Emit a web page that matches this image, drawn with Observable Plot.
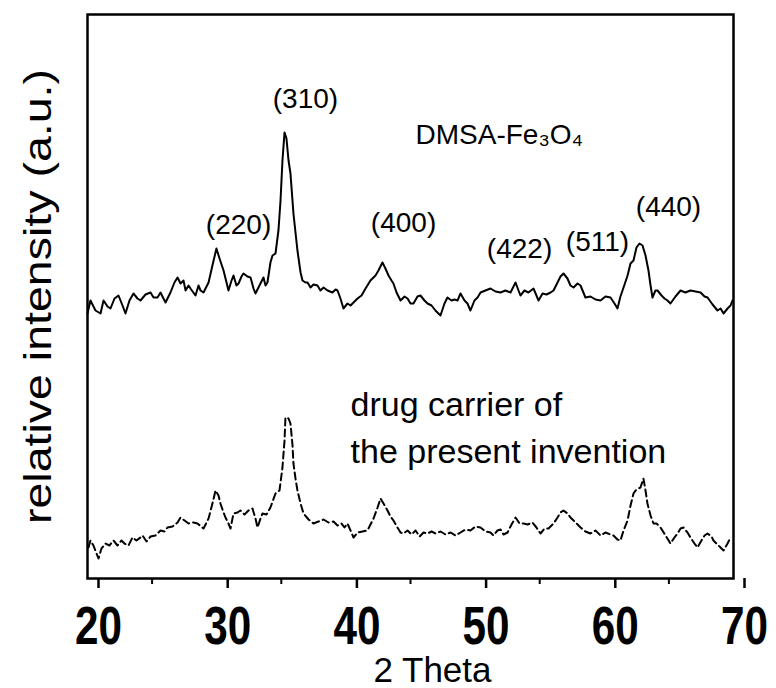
<!DOCTYPE html>
<html>
<head>
<meta charset="utf-8">
<script src="https://cdn.jsdelivr.net/npm/d3@7"></script>
<script src="https://cdn.jsdelivr.net/npm/@observablehq/plot@0.6"></script>
<style>
  html, body { margin: 0; padding: 0; background: #fff; }
  #chart { width: 776px; height: 688px; }
</style>
</head>
<body>
<div id="chart"></div>
<script>
// 2-theta positions and relative intensities (a.u.)
const dmsaTheta = [20.0,20.23,20.62,21.01,21.24,21.55,21.78,22.09,22.40,22.71,22.94,23.25,23.56,23.87,24.10,24.49,24.88,25.11,25.42,25.65,25.88,26.04,26.42,26.73,26.97,27.20,27.43,27.59,27.82,27.97,28.36,28.59,28.75,28.98,29.37,29.67,29.98,30.22,30.53,30.76,30.91,31.15,31.30,31.53,31.69,31.92,32.07,32.38,32.62,32.85,33.00,33.31,33.62,33.78,33.93,34.16,34.32,34.55,34.78,34.94,35.09,35.25,35.40,35.56,35.71,35.94,36.25,36.49,36.64,36.87,37.03,37.26,37.49,37.80,38.03,38.27,38.58,38.96,39.20,39.35,39.58,39.81,40.12,40.36,40.59,40.90,41.21,41.52,41.90,42.29,42.52,42.83,43.06,43.30,43.53,43.68,43.92,44.23,44.54,44.77,45.00,45.23,45.54,45.77,46.08,46.32,46.63,46.93,47.32,47.63,47.86,48.17,48.41,48.64,48.87,49.18,49.41,49.64,49.95,50.19,50.42,50.80,51.19,51.58,51.97,52.35,52.74,53.13,53.36,53.51,53.82,54.13,54.52,54.91,55.22,55.53,55.84,56.07,56.38,56.61,56.84,57.15,57.38,57.62,57.93,58.16,58.54,58.93,59.32,59.71,60.09,60.48,60.79,61.02,61.25,61.49,61.80,62.03,62.26,62.49,62.72,62.96,63.19,63.42,63.58,63.73,63.96,64.12,64.43,64.66,64.89,65.12,65.51,65.90,66.28,66.67,67.06,67.45,67.76,67.99,68.38,68.76,69.00,69.23,69.54,69.77,69.92];
const dmsaIntensity = [265,278,268,265,278,272,270,280,283,273,265,278,285,280,278,284,286,281,281,286,280,276,286,296,301,295,298,288,293,290,283,293,288,286,296,313,330,320,308,296,288,298,303,293,295,302,305,302,301,290,285,293,301,293,296,316,323,325,348,378,418,446,440,418,405,365,328,306,298,296,296,291,294,293,288,291,288,286,289,288,280,270,275,273,276,280,283,290,298,303,308,316,310,303,298,295,286,278,282,280,275,275,282,283,278,275,273,268,263,275,281,278,279,278,285,278,275,268,278,281,286,288,290,287,286,288,286,296,288,283,288,286,290,278,285,284,286,288,296,302,305,300,293,291,295,293,281,282,279,278,282,281,275,270,282,291,303,315,318,331,335,333,323,308,293,281,288,288,283,280,278,275,282,288,286,288,287,286,282,281,274,268,270,265,270,273,278];

const carrierTheta = [20.08,20.23,20.46,20.85,21.08,21.39,21.70,22.01,22.32,22.63,22.86,23.17,23.48,23.79,24.10,24.26,24.57,24.88,25.26,25.65,25.96,26.19,26.58,26.97,27.20,27.51,27.82,28.20,28.51,28.98,29.37,29.67,29.91,30.14,30.29,30.53,30.68,30.91,31.07,31.30,31.61,31.84,32.15,32.46,32.77,33.00,33.16,33.39,33.54,33.85,34.16,34.55,34.86,35.09,35.25,35.32,35.56,35.71,35.87,35.94,36.10,36.25,36.49,36.72,37.11,37.49,37.88,38.27,38.65,39.04,39.35,39.66,39.89,40.12,40.36,40.59,40.90,41.29,41.67,41.90,42.14,42.45,42.68,42.91,43.22,43.45,43.68,43.99,44.23,44.46,44.77,45.08,45.39,45.70,46.01,46.32,46.63,46.93,47.32,47.71,48.10,48.48,48.87,49.26,49.64,50.03,50.42,50.80,51.19,51.42,51.73,51.97,52.20,52.51,52.82,53.13,53.44,53.75,54.06,54.44,54.75,55.06,55.37,55.68,56.07,56.38,56.61,56.84,57.15,57.38,57.62,57.93,58.16,58.54,58.93,59.32,59.71,60.09,60.48,60.71,61.02,61.25,61.49,61.80,62.03,62.26,62.49,62.80,63.03,63.19,63.34,63.58,63.81,64.04,64.35,64.74,65.12,65.43,65.67,65.90,66.13,66.44,66.67,66.98,67.21,67.52,67.76,67.99,68.30,68.45,68.84,69.23,69.54,69.77];
const carrierIntensity = [31,38,33,20,30,35,33,38,33,38,35,33,41,38,41,43,37,42,43,48,47,51,52,56,61,58,55,56,55,50,60,75,88,83,75,66,61,55,50,65,66,68,64,68,70,60,51,60,65,64,71,85,88,111,138,161,160,155,133,115,100,88,75,65,59,55,57,59,56,57,53,55,51,55,48,41,46,47,48,54,60,71,80,75,68,62,58,51,46,45,48,44,48,42,46,45,47,45,47,44,46,43,46,49,48,52,51,47,46,43,48,49,44,46,54,61,55,55,54,56,51,45,50,50,55,61,66,68,65,61,58,54,51,47,45,48,43,46,44,43,39,38,48,58,73,85,89,91,100,88,75,63,55,55,51,43,35,41,45,50,51,46,41,35,31,38,43,45,42,38,33,28,35,41];

// peak labels (Miller indices) and sample names
const peakLabels = ["(310)","(220)","(400)","(422)","(511)","(440)"];
const peakLabelTheta = [36.87,31.69,44.46,53.44,59.47,64.97];
const peakLabelIntensity = [471,345,347,321,328,363];

const dmsaLabel = ["DMSA-Fe₃O₄"];
const dmsaLabelTheta = [45.39];
const dmsaLabelIntensity = [435];

const sampleLabels = ["drug carrier of","the present invention"];
const sampleLabelTheta = [40.36,40.36];
const sampleLabelIntensity = [163,116];

const majorTicks = [20,30,40,50,60,70];
const minorTicks = [25,35,45,55,65];
const xLabel = "2 Theta";
const yLabel = "relative intensity (a.u.)";

const dmsa = dmsaTheta.map((t,i)=>({theta:t, intensity:dmsaIntensity[i]}));
const carrier = carrierTheta.map((t,i)=>({theta:t, intensity:carrierIntensity[i]}));
const peaks = peakLabels.map((s,i)=>({text:s, theta:peakLabelTheta[i], intensity:peakLabelIntensity[i]}));
const dmsaNames = dmsaLabel.map((s,i)=>({text:s, theta:dmsaLabelTheta[i], intensity:dmsaLabelIntensity[i]}));
const samples = sampleLabels.map((s,i)=>({text:s, theta:sampleLabelTheta[i], intensity:sampleLabelIntensity[i]}));

const sans = "'Liberation Sans', Arial, Helvetica, sans-serif";

const chart = Plot.plot({
  width: 776,
  height: 688,
  marginLeft: 87,
  marginRight: 43,
  marginTop: 14,
  marginBottom: 110,
  style: {background: "#fff", color: "#000", fontFamily: sans},
  x: {domain: [20, 70], label: null},
  y: {domain: [0, 564], axis: null},
  marks: [
    Plot.frame({stroke: "#000", strokeWidth: 2.5}),
    Plot.line(dmsa, {x: "theta", y: "intensity", stroke: "#000", strokeWidth: 2, strokeLinejoin: "round"}),
    Plot.line(carrier, {x: "theta", y: "intensity", stroke: "#000", strokeWidth: 2, strokeDasharray: "7,4"}),
    Plot.text(peaks, {x: "theta", y: "intensity", text: "text", fontSize: 28, textAnchor: "middle", lineAnchor: "bottom", fill: "#000"}),
    Plot.text(dmsaNames, {x: "theta", y: "intensity", text: "text", fontSize: 28, textAnchor: "start", lineAnchor: "bottom", fill: "#000"}),
    Plot.text(samples, {x: "theta", y: "intensity", text: "text", fontSize: 34, textAnchor: "start", lineAnchor: "bottom", fill: "#000"}),
    Plot.axisX({ticks: majorTicks, tickSize: 10, tickPadding: 18, strokeWidth: 2.5, fontSize: 53, fontWeight: "bold", dx: 11, label: null}),
    Plot.axisX({ticks: minorTicks, tickSize: 6, strokeWidth: 2, tickFormat: () => "", label: null}),
    Plot.text([xLabel], {frameAnchor: "bottom", text: d => d, dy: 103, dx: 22, fontSize: 35, lineAnchor: "bottom", textAnchor: "middle", fill: "#000"}),
    Plot.text([yLabel], {frameAnchor: "left", text: d => d, rotate: -90, dx: -37, fontSize: 39, lineAnchor: "bottom", textAnchor: "middle", fill: "#000"})
  ]
});
// the scanned figure's lettering is condensed: fit the texts to its measured lengths
const tickNames = majorTicks.map(String);
chart.querySelectorAll("text").forEach(t => {
  const s = t.textContent.trim();
  if (tickNames.includes(s)) {
    t.setAttribute("textLength", "47");
    t.setAttribute("lengthAdjust", "spacingAndGlyphs");
  } else if (s === yLabel) {
    t.setAttribute("textLength", "455");
    t.setAttribute("lengthAdjust", "spacingAndGlyphs");
  }
});
document.getElementById("chart").appendChild(chart);
</script>
</body>
</html>
